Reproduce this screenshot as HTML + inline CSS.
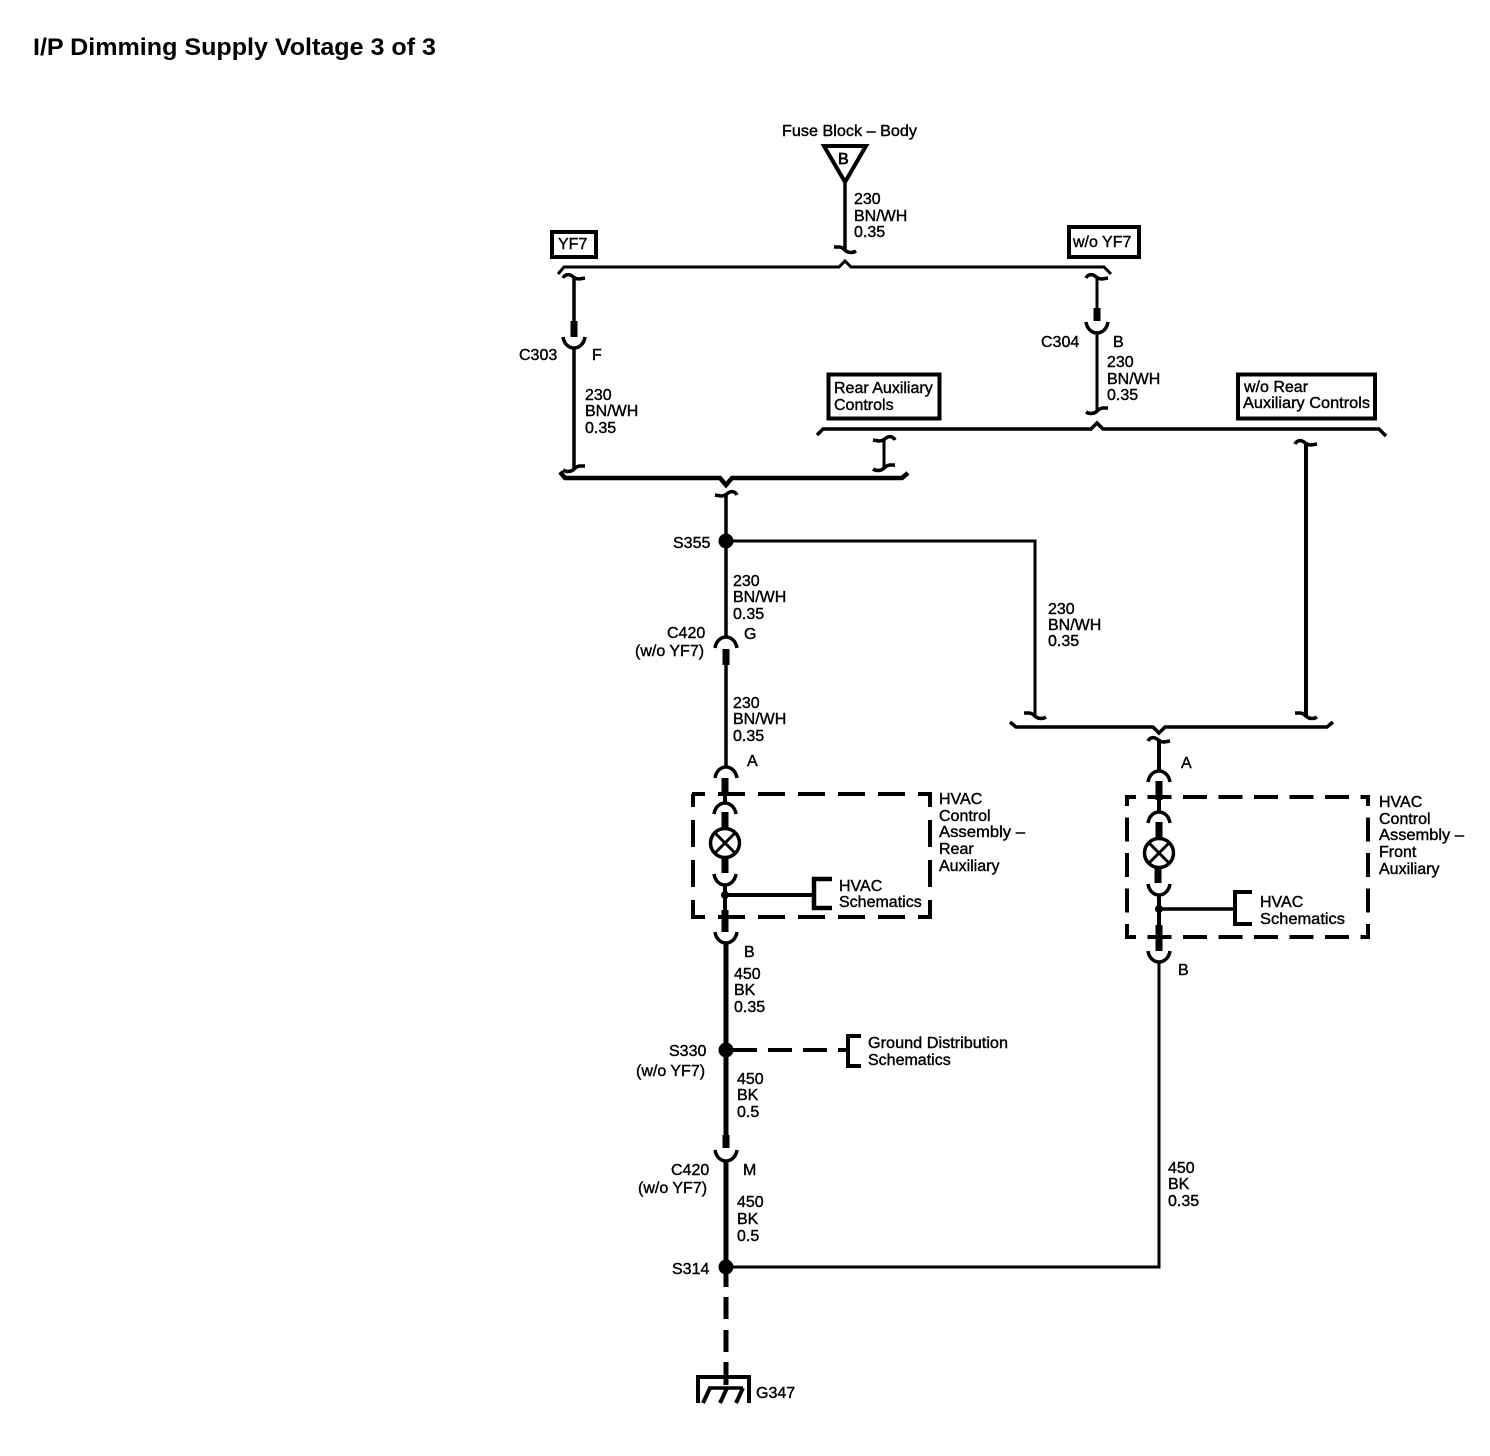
<!DOCTYPE html>
<html><head><meta charset="utf-8"><style>
html,body{margin:0;padding:0;background:#fff}
svg{display:block}
text{font-family:"Liberation Sans",sans-serif;font-size:16px;fill:#000;stroke:#000;stroke-width:.4}
</style></head><body>
<svg width="1490" height="1456" viewBox="0 0 1490 1456" xmlns="http://www.w3.org/2000/svg">
<defs>
<path id="ct" d="M-11,2 C-9,-2 -5,-2 -2,0 C0,2 3,3 5,3 L11,2" fill="none" stroke="#000" stroke-width="3.5"/>
<path id="ct2" d="M11,2 C9,-2 5,-2 2,0 C0,2 -3,3 -5,3 L-11,2" fill="none" stroke="#000" stroke-width="3.5"/>
<path id="cb" d="M-11,1 C-8,3 -4,3 -1,1 C1,-1 4,-3 6,-3 L11,-3" fill="none" stroke="#000" stroke-width="3.5"/>
<path id="cb2" d="M11,1 C8,3 4,3 1,1 C-1,-1 -4,-3 -6,-3 L-11,-3" fill="none" stroke="#000" stroke-width="3.5"/>
<path id="au" d="M-11,0 C-10,7 -5,11 0,11 C5,11 10,7 11,0" fill="none" stroke="#000" stroke-width="3.5"/>
<path id="an" d="M-11,11 C-10,4 -5,0 0,0 C5,0 10,4 11,11" fill="none" stroke="#000" stroke-width="3.5"/>
</defs>
<g fill="none" stroke="#000" stroke-width="3">
<!-- fuse -->
<path d="M824,146 H866 L845,182 Z" stroke-width="4"/>
<path d="M845,182 V250" stroke-width="3.5"/>
<use href="#cb2" x="845" y="250"/>
<!-- bus 1 -->
<path d="M558,274 L564,267 H839 L845,261 L851,267 H1104 L1111,274"/>
<use href="#ct" x="574" y="276"/>
<path d="M574,276 V322" stroke-width="3.5"/><path d="M574,321 V337" stroke-width="7"/>
<use href="#au" x="574" y="337"/>
<path d="M574,348 V469" stroke-width="3.5"/>
<use href="#cb" x="574" y="469"/>
<use href="#ct" x="1097" y="276"/>
<path d="M1097,276 V309" stroke-width="3"/><path d="M1097,308 V321" stroke-width="7"/>
<use href="#au" x="1097" y="322"/>
<path d="M1097,333 V411"/>
<use href="#cb" x="1097" y="411"/>
<!-- bus rear -->
<path d="M817,435 L823,429 H1091 L1097,423 L1103,429 H1379 L1386,436" stroke-width="3.5"/>
<use href="#ct2" x="884" y="438"/><path d="M884,438 V468"/><use href="#cb" x="884" y="468"/>
<use href="#ct" x="1306" y="442"/><path d="M1306,442 V716" stroke-width="4"/><use href="#cb2" x="1306" y="716"/>
<!-- bus 2 -->
<path d="M560,472 L565,478 H720 L726,485 L732,478 H902 L908,473" stroke-width="4.5"/>
<use href="#ct2" x="726" y="493"/>
<!-- left main -->
<path d="M726,493 V637" stroke-width="3.5"/>
<circle cx="726" cy="541" r="7.500" fill="#000" stroke="none"/>
<path d="M726,541 H1035 V716"/>
<use href="#cb2" x="1035" y="716"/>
<use href="#an" x="726" y="637"/>
<path d="M726,649 V665" stroke-width="7"/>
<path d="M726,665 V767" stroke-width="3.5"/>
<use href="#an" x="726" y="767"/>
<path d="M725,778 V796" stroke-width="7"/><path d="M725,796 V803" stroke-width="4"/>
<use href="#an" x="725" y="803"/>
<path d="M725,812 V828" stroke-width="7"/>
<circle cx="725" cy="843" r="14.500" stroke-width="3.500"/>
<path d="M714,832 L736,854 M736,832 L714,854" stroke-width="3"/>
<path d="M725,858 V873" stroke-width="7"/>
<use href="#au" x="725" y="874"/>
<path d="M725,885 V910" stroke-width="4"/>
<circle cx="725" cy="895" r="4" fill="#000" stroke="none"/>
<path d="M725,895 H812" stroke-width="4"/>
<path d="M832,879 H814 V908 H832" stroke-width="4.5"/>
<path d="M725,910 V932" stroke-width="7"/>
<use href="#au" x="726" y="932"/>
<path d="M726,943 V1136" stroke-width="5"/>
<circle cx="726" cy="1050" r="7.500" fill="#000" stroke="none"/>
<path d="M733,1050 H846" stroke-width="4" stroke-dasharray="24 11"/>
<path d="M861,1036 H848 V1066 H861" stroke-width="4"/>
<path d="M726,1135 V1148" stroke-width="7"/>
<use href="#au" x="726" y="1150"/>
<path d="M726,1161 V1267" stroke-width="5"/>
<circle cx="726" cy="1267" r="7.500" fill="#000" stroke="none"/>
<path d="M726,1267 H1159 V962"/>
<path d="M726,1274 V1287 M726,1297 V1319 M726,1330 V1352 M726,1362 V1385" stroke-width="5"/>
<path d="M698,1403 V1377 H749 V1403" stroke-width="4"/>
<path d="M708,1388 H743" stroke-width="3.5"/>
<path d="M710,1388 L703,1403 M727,1388 L720,1403 M743,1388 L736,1403" stroke-width="4"/>
<!-- right assembly -->
<path d="M1010,722 L1016,727 H1153 L1159,733 L1165,727 H1327 L1333,722" stroke-width="3.5"/>
<use href="#ct" x="1159" y="739"/>
<path d="M1159,739 V770" stroke-width="4"/>
<use href="#an" x="1159" y="771"/>
<path d="M1159,781 V800" stroke-width="7"/><path d="M1159,800 V812" stroke-width="4"/>
<use href="#an" x="1159" y="812"/>
<path d="M1159,822 V838" stroke-width="7"/>
<circle cx="1159" cy="853" r="14.500" stroke-width="3.500"/>
<path d="M1148,842 L1170,864 M1170,842 L1148,864" stroke-width="3"/>
<path d="M1158,868 V883" stroke-width="7"/>
<use href="#au" x="1159" y="884"/>
<path d="M1159,895 V925" stroke-width="4"/>
<circle cx="1159" cy="909" r="4" fill="#000" stroke="none"/>
<path d="M1159,909 H1235" stroke-width="3.5"/>
<path d="M1252,892 H1235 V924 H1252" stroke-width="4"/>
<path d="M1159,925 V951" stroke-width="7"/>
<use href="#au" x="1159" y="951"/>
<!-- dashed boxes -->
<g stroke-width="4">
<g stroke-dasharray="27 13" stroke-dashoffset="14">
<path d="M692,794 H932"/><path d="M692,917 H932"/>
<path d="M693,794 V919"/><path d="M930,794 V919"/>
</g>
<g stroke-dasharray="24 11.500" stroke-dashoffset="13">
<path d="M1125,797 H1370"/><path d="M1125,937 H1370"/>
<path d="M1127,795 V939"/><path d="M1368,795 V939"/>
</g>
</g>
<!-- boxes -->
<rect x="552" y="232" width="44" height="25" stroke-width="4"/>
<rect x="1069" y="227" width="70" height="30" stroke-width="4"/>
<rect x="828.500" y="374.500" width="111" height="44" stroke-width="4"/>
<rect x="1238" y="374.500" width="137" height="44" stroke-width="4"/>
</g>
<text x="33" y="55" textLength="403" lengthAdjust="spacingAndGlyphs" style="font-size:24px;font-weight:bold;stroke-width:0">I/P Dimming Supply Voltage 3 of 3</text>
<text x="782" y="136" textLength="135" lengthAdjust="spacingAndGlyphs">Fuse Block – Body</text>
<text x="838" y="164" style="stroke-width:.7">B</text>
<text x="854" y="204">230</text><text x="854" y="221">BN/WH</text><text x="854" y="237">0.35</text>
<text x="558" y="249">YF7</text>
<text x="1073" y="247">w/o YF7</text>
<text x="519" y="360">C303</text><text x="592" y="360">F</text>
<text x="585" y="400">230</text><text x="585" y="416">BN/WH</text><text x="585" y="433">0.35</text>
<text x="834" y="393">Rear Auxiliary</text><text x="834" y="410">Controls</text>
<text x="1041" y="347">C304</text><text x="1113" y="347">B</text>
<text x="1107" y="367">230</text><text x="1107" y="384">BN/WH</text><text x="1107" y="400">0.35</text>
<text x="1244" y="392">w/o Rear</text><text x="1243" y="408" textLength="127" lengthAdjust="spacingAndGlyphs">Auxiliary Controls</text>
<text x="673" y="548">S355</text>
<text x="733" y="586">230</text><text x="733" y="602">BN/WH</text><text x="733" y="619">0.35</text>
<text x="667" y="638">C420</text><text x="635" y="656">(w/o YF7)</text><text x="744" y="639">G</text>
<text x="733" y="708">230</text><text x="733" y="724">BN/WH</text><text x="733" y="741">0.35</text>
<text x="1048" y="614">230</text><text x="1048" y="630">BN/WH</text><text x="1048" y="646">0.35</text>
<text x="747" y="766">A</text>
<text x="939" y="804">HVAC</text><text x="939" y="821">Control</text><text x="939" y="837" textLength="86" lengthAdjust="spacingAndGlyphs">Assembly –</text><text x="939" y="854">Rear</text><text x="939" y="871">Auxiliary</text>
<text x="839" y="891">HVAC</text><text x="839" y="907">Schematics</text>
<text x="744" y="957">B</text>
<text x="734" y="979">450</text><text x="734" y="995">BK</text><text x="734" y="1012">0.35</text>
<text x="669" y="1056">S330</text><text x="636" y="1076">(w/o YF7)</text>
<text x="737" y="1084">450</text><text x="737" y="1100">BK</text><text x="737" y="1117">0.5</text>
<text x="868" y="1048" textLength="140" lengthAdjust="spacingAndGlyphs">Ground Distribution</text><text x="868" y="1065">Schematics</text>
<text x="671" y="1175">C420</text><text x="638" y="1193">(w/o YF7)</text><text x="743" y="1175">M</text>
<text x="737" y="1207">450</text><text x="737" y="1224">BK</text><text x="737" y="1241">0.5</text>
<text x="672" y="1274">S314</text>
<text x="756" y="1398">G347</text>
<text x="1181" y="768">A</text>
<text x="1379" y="807">HVAC</text><text x="1379" y="824">Control</text><text x="1379" y="840" textLength="85" lengthAdjust="spacingAndGlyphs">Assembly –</text><text x="1379" y="857">Front</text><text x="1379" y="874">Auxiliary</text>
<text x="1260" y="907">HVAC</text><text x="1260" y="924" textLength="85" lengthAdjust="spacingAndGlyphs">Schematics</text>
<text x="1178" y="975">B</text>
<text x="1168" y="1173">450</text><text x="1168" y="1189">BK</text><text x="1168" y="1206">0.35</text>
</svg>
</body></html>
